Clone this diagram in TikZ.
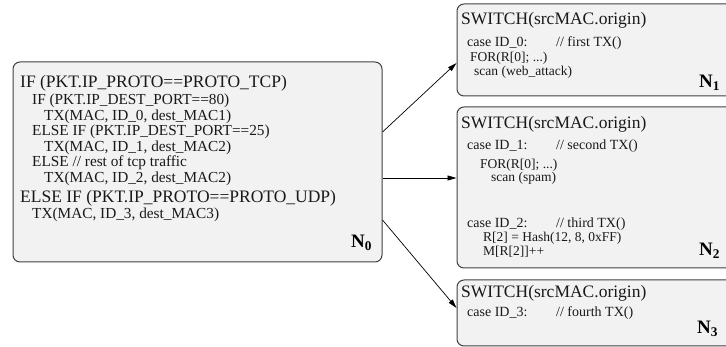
\documentclass[tikz,border=0pt]{standalone}
\usepackage{fontspec}
\setmainfont{Liberation Serif}
\usetikzlibrary{arrows.meta}
\begin{document}
\begin{tikzpicture}[x=1pt,y=-1pt,
  box/.style={draw=black!75, fill=black!5, rounded corners=7pt, line width=1pt, inner sep=0pt},
  txt/.style={anchor=base west, inner sep=0pt, text=black!90},
  ttl/.style={txt, font=\fontsize{17.5}{17.5}\selectfont},
  sub/.style={txt, font=\fontsize{15.3}{15.3}\selectfont},
  cas/.style={txt, font=\fontsize{14}{14}\selectfont},
  cod/.style={txt, font=\fontsize{13.5}{13.5}\selectfont},
  lbl/.style={anchor=base west, inner sep=0pt, font=\fontsize{19}{19}\selectfont\bfseries},
  arr/.style={-{Triangle[length=9pt,width=5pt]}, line width=0.7pt, black}]
\useasboundingbox (0,0) rectangle (726,347);
\clip (0,0) rectangle (726,347);
% boxes
\node[box, minimum width=369pt, minimum height=200pt] (n0) at (197.5,162) {};
\node[box, minimum width=303pt, minimum height=92pt] (n1) at (608.5,50) {};
\node[box, minimum width=303pt, minimum height=161pt] (n2) at (608.5,187.5) {};
\node[box, minimum width=303pt, minimum height=66pt] (n3) at (608.5,313) {};
% N0 text
\node[ttl] (a1) at (20,88) {IF (PKT.IP\_PROTO==PROTO\_TCP)};
\node[sub] (a2) at (32,105) {IF (PKT.IP\_DEST\_PORT==80)};
\node[sub] (a3) at (44,120.5) {TX(MAC, ID\_0, dest\_MAC1)};
\node[sub] (a4) at (32,136) {ELSE IF (PKT.IP\_DEST\_PORT==25)};
\node[sub] (a5) at (44,151.5) {TX(MAC, ID\_1, dest\_MAC2)};
\node[sub] (a6) at (32,167) {ELSE // rest of tcp traffic};
\node[sub] (a7) at (44,182.5) {TX(MAC, ID\_2, dest\_MAC2)};
\node[ttl] (a8) at (20,203) {ELSE IF (PKT.IP\_PROTO==PROTO\_UDP)};
\node[sub] (a9) at (32,219) {TX(MAC, ID\_3, dest\_MAC3)};
\node[lbl] (l0) at (351,248) {N$_{\mathbf{0}}$};
% N1 text
\node[ttl] (b1) at (461,25) {SWITCH(srcMAC.origin)};
\node[cas] (b2) at (467,47) {case ID\_0:};
\node[cas] (b2c) at (556,47) {// first TX()};
\node[cod] (b3) at (470,62) {FOR(R[0]; ...)};
\node[cod] (b4) at (474,76) {scan (web\_attack)};
\node[lbl] (l1) at (699,88) {N$_{\mathbf{1}}$};
% N2 text
\node[ttl] (c1) at (461,129) {SWITCH(srcMAC.origin)};
\node[cas] (c2) at (467,150) {case ID\_1:};
\node[cas] (c2c) at (556,150) {// second TX()};
\node[cod] (c3) at (480,169) {FOR(R[0]; ...)};
\node[cod] (c4) at (491,182) {scan (spam)};
\node[cas] (c5) at (467,228) {case ID\_2:};
\node[cas] (c5c) at (556,228) {// third TX()};
\node[cod] (c6) at (483,242) {R[2] = Hash(12, 8, 0xFF)};
\node[cod] (c7) at (483,256) {M[R[2]]++};
\node[lbl] (l2) at (699,256) {N$_{\mathbf{2}}$};
% N3 text
\node[ttl] (d1) at (461,298) {SWITCH(srcMAC.origin)};
\node[cas] (d2) at (467,317) {case ID\_3:};
\node[cas] (d2c) at (556,317) {// fourth TX()};
\node[lbl] (l3) at (697,334) {N$_{\mathbf{3}}$};
% arrows
\draw[arr] ([yshift=30pt]n0.east) -- ([yshift=-13pt]n1.west);
\draw[arr] ([yshift=-16pt]n0.east) -- ([yshift=9.5pt]n2.west);
\draw[arr] ([yshift=-58pt]n0.east) -- ([yshift=5pt]n3.west);
\end{tikzpicture}
\end{document}
